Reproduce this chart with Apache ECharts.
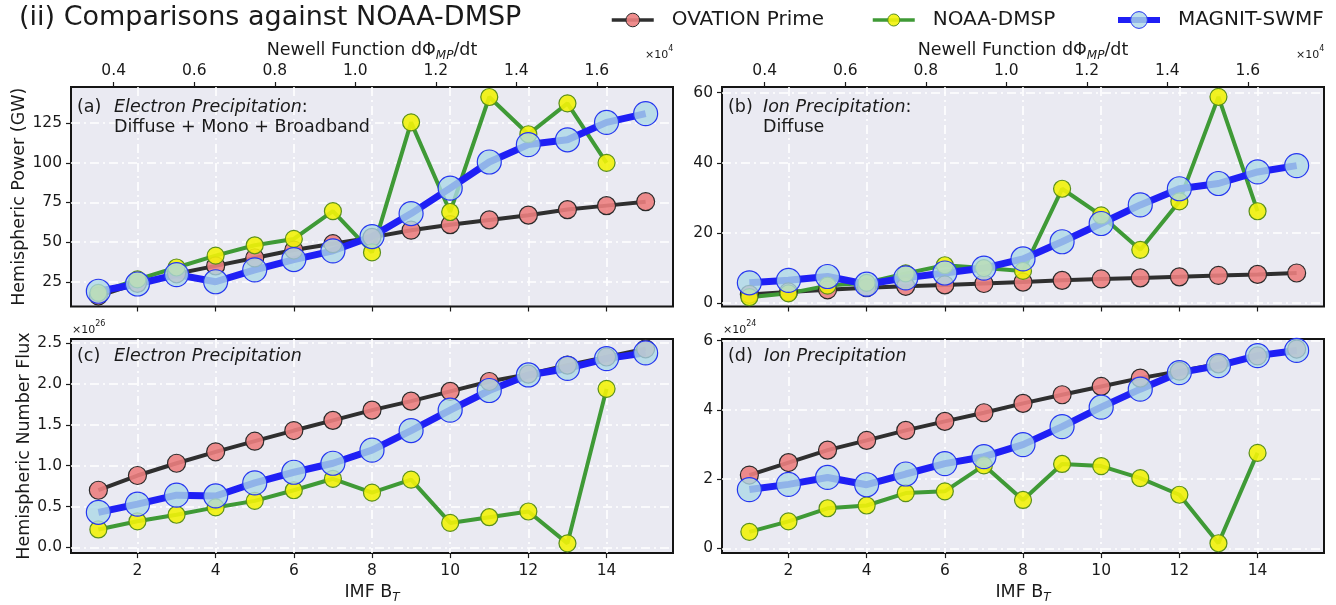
<!DOCTYPE html>
<html>
<head>
<meta charset="utf-8">
<title>Comparisons against NOAA-DMSP</title>
<script src="https://cdn.jsdelivr.net/npm/echarts@6/dist/echarts.min.js"></script>
<style>
  html, body { margin: 0; padding: 0; background: #fff; }
  #chart { width: 1336px; height: 605px; }
</style>
</head>
<body>
<div id="chart"></div>
<script>
// IMF B_T bins (bottom axis) and tick labels
const btValues = [1, 2, 3, 4, 5, 6, 7, 8, 9, 10, 11, 12, 13, 14, 15];
const btTicks = [2, 4, 6, 8, 10, 12, 14];
const btRange = [0.3, 15.7];

// Newell function axis on top (x10^4)
const newellTicks = [0.4, 0.6, 0.8, 1.0, 1.2, 1.4, 1.6];
const newellRange = [0.294, 1.789];

// (a) electron hemispheric power, GW
const ovationElecPower = [16, 24, 30, 35, 40, 45, 49, 53, 57.5, 61, 64, 67, 70.5, 73, 75.5];
const noaaElecPower = [18, 26.5, 34, 41.5, 48, 52, 69.5, 43.5, 125.5, 69, 141.5, 118, 137.5, 100];
const magnitElecPower = [19, 23.6, 29.5, 25, 32.5, 39, 44.5, 53.5, 68, 84, 100.5, 111.5, 114.5, 125.5, 131];
const elecPowerTicks = [25, 50, 75, 100, 125];
const elecPowerRange = [9.4, 147.8];

// (b) ion hemispheric power, GW
const ovationIonPower = [2.5, 3.2, 3.8, 4.4, 4.8, 5.2, 5.6, 6.0, 6.5, 6.9, 7.2, 7.5, 7.9, 8.2, 8.6];
const noaaIonPower = [1.7, 2.8, 5.0, 5.8, 8.5, 10.8, 10.0, 9.2, 32.6, 25, 15.2, 29, 58.8, 26.2];
const magnitIonPower = [5.8, 6.5, 7.6, 5.4, 7.2, 8.6, 10.0, 12.6, 17.5, 22.7, 28, 32.6, 34.1, 37.4, 39.2];
const ionPowerTicks = [0, 20, 40, 60];
const ionPowerRange = [-0.95, 61.6];

// (c) electron number flux, x10^26
const ovationElecFlux = [0.70, 0.88, 1.03, 1.17, 1.30, 1.43, 1.555, 1.68, 1.79, 1.91, 2.03, 2.12, 2.23, 2.33, 2.43];
const noaaElecFlux = [0.22, 0.32, 0.40, 0.49, 0.57, 0.70, 0.84, 0.67, 0.83, 0.30, 0.37, 0.44, 0.05, 1.94];
const magnitElecFlux = [0.43, 0.53, 0.64, 0.63, 0.79, 0.92, 1.03, 1.19, 1.43, 1.68, 1.92, 2.11, 2.19, 2.31, 2.38];
const elecFluxTicks = [0, 0.5, 1.0, 1.5, 2.0, 2.5];
const elecFluxRange = [-0.069, 2.55];

// (d) ion number flux, x10^24
const ovationIonFlux = [2.12, 2.48, 2.84, 3.12, 3.41, 3.67, 3.92, 4.19, 4.44, 4.68, 4.92, 5.12, 5.33, 5.56, 5.76];
const noaaIonFlux = [0.48, 0.78, 1.16, 1.24, 1.60, 1.65, 2.40, 1.40, 2.44, 2.38, 2.03, 1.55, 0.15, 2.76];
const magnitIonFlux = [1.70, 1.85, 2.05, 1.84, 2.15, 2.45, 2.65, 3.0, 3.52, 4.08, 4.60, 5.08, 5.28, 5.57, 5.72];
const ionFluxTicks = [0, 2, 4, 6];
const ionFluxRange = [-0.135, 6.05];

const FONT = 'DejaVu Sans';
const TEXT = '#1a1a1a';
const GRID_LINE = { color: '#ffffff', width: 1.6, type: [9, 4, 2, 4] };

const STYLES = {
  ovation: { name: 'OVATION Prime', line: '#2f2f2f', width: 4, fill: 'rgba(236,128,128,0.9)', edge: '#2a2a2a', size: 18 },
  noaa: { name: 'NOAA-DMSP', line: '#3f9a36', width: 4, fill: 'rgba(242,242,10,0.9)', edge: '#5a8f1c', size: 17 },
  magnit: { name: 'MAGNIT-SWMF', line: '#1f1ff5', width: 7, fill: 'rgba(173,216,230,0.8)', edge: '#2536f0', size: 24 },
};

const panels = [
  { left: 71, top: 87, width: 602, height: 219.5 },
  { left: 722, top: 87, width: 602, height: 219.5 },
  { left: 71, top: 339, width: 602, height: 217.5 },
  { left: 722, top: 339, width: 602, height: 217.5 },
];

const pairs = (values) => values.map((v, i) => [btValues[i], v]);

function lineSeries(key, values, idx) {
  const s = STYLES[key];
  return {
    name: s.name,
    type: 'line',
    xAxisIndex: idx,
    yAxisIndex: idx,
    data: pairs(values),
    symbol: 'circle',
    symbolSize: s.size,
    lineStyle: { color: s.line, width: s.width },
    itemStyle: { color: s.fill, borderColor: s.edge, borderWidth: 1.2 },
    emphasis: { disabled: true },
  };
}

const subRich = {
  sub: { fontFamily: FONT, fontSize: 12, fontStyle: 'italic', lineHeight: 16, verticalAlign: 'bottom', color: TEXT },
};

function btAxis(idx, showLabels) {
  return {
    type: 'value',
    gridIndex: idx,
    min: btRange[0],
    max: btRange[1],
    name: showLabels ? 'IMF B{sub|T}' : '',
    nameLocation: 'middle',
    nameGap: 26,
    nameTextStyle: { fontFamily: FONT, fontSize: 17.5, color: TEXT, lineHeight: 24, rich: subRich },
    axisLine: { show: false, onZero: false },
    axisTick: { show: true, length: 5, customValues: btTicks, lineStyle: { color: TEXT, width: 1.2 } },
    axisLabel: { show: showLabels, customValues: btTicks, margin: 10, fontFamily: FONT, fontSize: 15.5, color: TEXT },
    splitLine: { show: true, lineStyle: GRID_LINE },
  };
}

function newellAxis(idx) {
  return {
    type: 'value',
    gridIndex: idx,
    position: 'top',
    min: newellRange[0],
    max: newellRange[1],
    name: 'Newell Function dΦ{sub|MP}/dt',
    nameLocation: 'middle',
    nameGap: 21,
    nameTextStyle: { fontFamily: FONT, fontSize: 17.5, color: TEXT, lineHeight: 24, rich: subRich },
    axisLine: { show: false, onZero: false },
    axisTick: { show: true, length: 5, customValues: newellTicks, lineStyle: { color: TEXT, width: 1.2 } },
    axisLabel: {
      customValues: newellTicks,
      margin: 8,
      formatter: (v) => v.toFixed(1),
      fontFamily: FONT, fontSize: 15.5, color: TEXT,
    },
    splitLine: { show: false },
  };
}

function valueAxis(idx, range, ticks, fmt, name) {
  return {
    type: 'value',
    gridIndex: idx,
    min: range[0],
    max: range[1],
    name: name || '',
    nameLocation: 'middle',
    nameRotate: 90,
    nameGap: 35,
    nameTextStyle: { fontFamily: FONT, fontSize: 17.5, color: TEXT },
    axisLine: { show: false, onZero: false },
    axisTick: { show: true, length: 5, customValues: ticks, lineStyle: { color: TEXT, width: 1.2 } },
    axisLabel: { customValues: ticks, margin: 9, formatter: fmt, fontFamily: FONT, fontSize: 15.5, color: TEXT },
    splitLine: { show: true, lineStyle: GRID_LINE },
  };
}

const labelRich = {
  n: { fontFamily: FONT, fontSize: 17.5, color: TEXT, lineHeight: 20 },
  i: { fontFamily: FONT, fontSize: 17.5, fontStyle: 'italic', color: TEXT, lineHeight: 20 },
  b: { fontFamily: FONT, fontSize: 11, color: TEXT, lineHeight: 16, verticalAlign: 'bottom' },
  sup: { fontFamily: FONT, fontSize: 8, color: TEXT, lineHeight: 10, verticalAlign: 'top' },
};

const note = (text, left, top) => ({
  text, left, top, padding: 0,
  textStyle: { rich: labelRich, fontFamily: FONT, fontSize: 17.5, fontWeight: 'normal', color: TEXT, lineHeight: 20 },
});

function legend(name, left, lineWidth, itemHeight) {
  return {
    data: [name],
    left, top: 8, padding: 0,
    itemWidth: 42, itemHeight,
    lineStyle: { width: lineWidth },
    itemStyle: { borderWidth: 1 },
    selectedMode: false,
    textStyle: { fontFamily: FONT, fontSize: 20, color: TEXT, lineHeight: 24, padding: [0, 0, 0, 13] },
  };
}

const chart = echarts.init(document.getElementById('chart'));

const option = {
  animation: false,
  backgroundColor: '#ffffff',
  title: [
    { text: '(ii) Comparisons against NOAA-DMSP', left: 19, top: 2, padding: 0,
      textStyle: { fontFamily: FONT, fontSize: 27, fontWeight: 'normal', color: TEXT, lineHeight: 32 } },
    note('(a)', 77, 97), note('{i|Electron Precipitation}{n|:}', 114, 97), note('Diffuse + Mono + Broadband', 114, 117),
    note('(b)', 728, 97), note('{i|Ion Precipitation}{n|:}', 763, 97), note('Diffuse', 763, 117),
    note('(c)', 77, 346), note('{i|Electron Precipitation}', 114, 346),
    note('(d)', 728, 346), note('{i|Ion Precipitation}', 764, 346),
    note('{b|×10}{sup|4}', 645, 45), note('{b|×10}{sup|4}', 1296, 45),
    note('{b|×10}{sup|26}', 72, 320), note('{b|×10}{sup|24}', 723, 320),
  ],
  legend: [
    legend(STYLES.ovation.name, 610, 3.5, 17),
    legend(STYLES.noaa.name, 871, 3.5, 15),
    legend(STYLES.magnit.name, 1115, 6, 21),
  ],
  grid: panels.map((p) => ({
    ...p,
    show: true,
    backgroundColor: '#eaeaf2',
    borderColor: '#151515',
    borderWidth: 2,
  })),
  xAxis: [
    btAxis(0, false), btAxis(1, false), btAxis(2, true), btAxis(3, true),
    newellAxis(0), newellAxis(1),
  ],
  yAxis: [
    valueAxis(0, elecPowerRange, elecPowerTicks, (v) => String(v), 'Hemispheric Power (GW)'),
    valueAxis(1, ionPowerRange, ionPowerTicks, (v) => String(v)),
    valueAxis(2, elecFluxRange, elecFluxTicks, (v) => v.toFixed(1), 'Hemispheric Number Flux'),
    valueAxis(3, ionFluxRange, ionFluxTicks, (v) => String(v)),
  ],
  series: [
    lineSeries('ovation', ovationElecPower, 0),
    lineSeries('noaa', noaaElecPower, 0),
    lineSeries('magnit', magnitElecPower, 0),
    lineSeries('ovation', ovationIonPower, 1),
    lineSeries('noaa', noaaIonPower, 1),
    lineSeries('magnit', magnitIonPower, 1),
    lineSeries('ovation', ovationElecFlux, 2),
    lineSeries('noaa', noaaElecFlux, 2),
    lineSeries('magnit', magnitElecFlux, 2),
    lineSeries('ovation', ovationIonFlux, 3),
    lineSeries('noaa', noaaIonFlux, 3),
    lineSeries('magnit', magnitIonFlux, 3),
  ],
};

chart.setOption(option);
</script>
</body>
</html>
